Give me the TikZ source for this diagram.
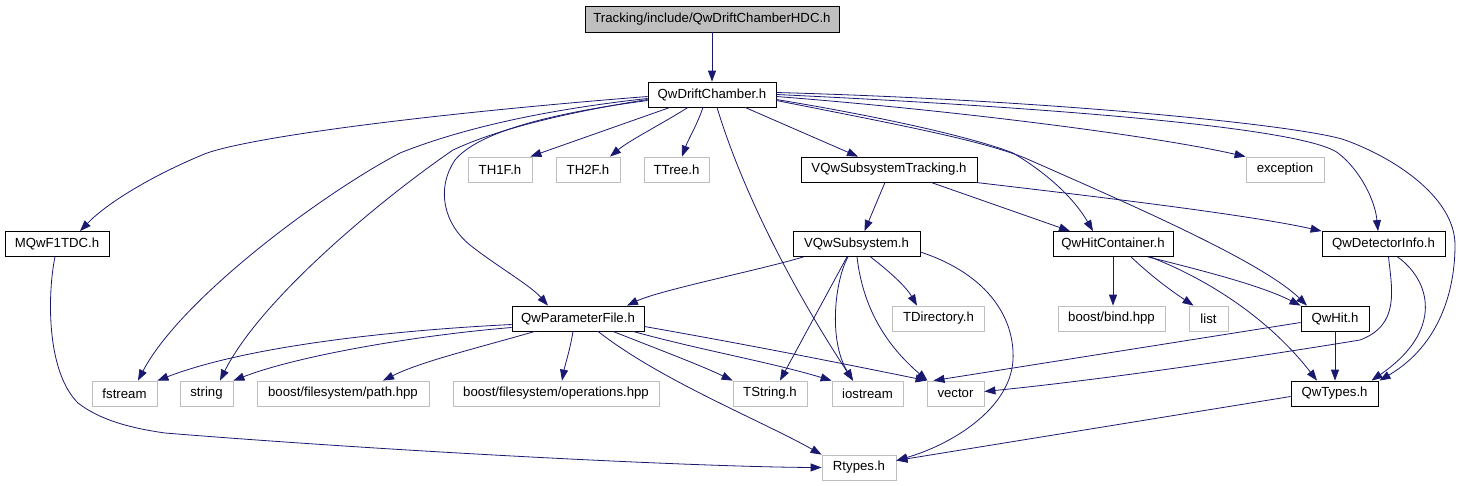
\documentclass[tikz,border=0pt]{standalone}
\usepackage{fontspec}
\setmainfont{Liberation Sans}
\usetikzlibrary{arrows.meta}
\definecolor{edgeblue}{HTML}{191970}
\definecolor{boxgray}{HTML}{BFBFBF}
\begin{document}
\begin{tikzpicture}[x=1pt,y=-1pt,
  box/.style={line width=0.8pt, minimum height=25pt, inner sep=0pt, font=\fontsize{13.2}{15}\selectfont, text=black},
  doc/.style={box, draw=black},
  ext/.style={box, draw=boxgray},
  dep/.style={draw=edgeblue, line width=0.8pt, -{Triangle[length=11pt,width=8pt]}}]
\useasboundingbox (0,0) rectangle (1467,485);
% nodes
\node[doc, fill=boxgray, minimum width=254pt, minimum height=26pt] (top) at (712,19) {Tracking/include/QwDriftChamberHDC.h};
\node[doc, minimum width=128pt] (dc) at (712,94.5) {QwDriftChamber.h};
\node[ext, minimum width=64pt] (th1f) at (500,169.5) {TH1F.h};
\node[ext, minimum width=64pt] (th2f) at (588,169.5) {TH2F.h};
\node[ext, minimum width=65pt] (ttree) at (676.5,169.5) {TTree.h};
\node[doc, minimum width=176pt] (vqst) at (889,169.5) {VQwSubsystemTracking.h};
\node[ext, minimum width=78pt] (exc) at (1285,169.5) {exception};
\node[doc, minimum width=104pt] (mqw) at (57,244) {MQwF1TDC.h};
\node[doc, minimum width=127pt] (vqs) at (856.5,244) {VQwSubsystem.h};
\node[doc, minimum width=120pt] (qhc) at (1113,244) {QwHitContainer.h};
\node[doc, minimum width=123pt] (qdi) at (1383.5,244) {QwDetectorInfo.h};
\node[doc, minimum width=132pt] (qpf) at (578,318.5) {QwParameterFile.h};
\node[ext, minimum width=92pt] (tdir) at (938.5,318.5) {TDirectory.h};
\node[ext, minimum width=107pt] (bind) at (1111.5,318.5) {boost/bind.hpp};
\node[ext, minimum width=39pt] (list) at (1208.5,318.5) {list};
\node[doc, minimum width=68pt] (qhit) at (1335,318.5) {QwHit.h};
\node[ext, minimum width=65pt] (fstream) at (124.5,393.5) {fstream};
\node[ext, minimum width=53pt] (string) at (206.5,393.5) {string};
\node[ext, minimum width=172pt] (path) at (343,393.5) {boost/filesystem/path.hpp};
\node[ext, minimum width=206pt] (ops) at (556,393.5) {boost/filesystem/operations.hpp};
\node[ext, minimum width=74pt] (tstr) at (770,393.5) {TString.h};
\node[ext, minimum width=71pt] (iostr) at (867.5,393.5) {iostream};
\node[ext, minimum width=57pt] (vec) at (955.5,393.5) {vector};
\node[doc, minimum width=87pt] (qtypes) at (1334.5,393.5) {QwTypes.h};
\node[ext, minimum width=74pt] (rtypes) at (859,467.5) {Rtypes.h};
% edges
\draw[dep] (top.south) -- (dc.north);
\draw[dep] ([yshift=-2pt]dc.west) .. controls (450,112) and (260,135) .. (207,153) .. controls (160,172) and (110,200) .. ([xshift=23pt]mqw.north);
\draw[dep] ([yshift=-4pt]dc.west) .. controls (560,108) and (470,125) .. (400,153) .. controls (320,195) and (180,300) .. ([xshift=13.5pt]fstream.north);
\draw[dep] ([yshift=-5pt]dc.west) .. controls (570,112) and (500,128) .. (453,150) .. controls (380,200) and (260,300) .. ([xshift=13.5pt]string.north);
\draw[dep] ([yshift=-6pt]dc.west) .. controls (560,112) and (480,130) .. (455,160) .. controls (435,190) and (445,225) .. (470,245) .. controls (495,265) and (530,285) .. ([xshift=-30pt]qpf.north);
\draw[dep] ([xshift=-42pt]dc.south) -- ([xshift=-2pt]th1f.north east);
\draw[dep] ([xshift=-24pt]dc.south) .. controls (660,125) and (630,140) .. ([xshift=22pt]th2f.north);
\draw[dep] ([xshift=-9pt]dc.south) .. controls (697,125) and (688,140) .. ([xshift=5.5pt]ttree.north);
\draw[dep] ([xshift=5pt]dc.south) .. controls (745,200) and (800,300) .. ([xshift=-14.5pt]iostr.north);
\draw[dep] ([xshift=33pt]dc.south) -- ([xshift=-31pt]vqst.north);
\draw[dep] ([yshift=-5pt]dc.east) .. controls (900,120) and (980,140) .. (1013,153) .. controls (1050,175) and (1075,200) .. ([xshift=-20pt]qhc.north);
\draw[dep] ([yshift=-6pt]dc.east) .. controls (900,125) and (980,140) .. (1025,158) .. controls (1120,200) and (1260,260) .. ([xshift=-28pt]qhit.north);
\draw[dep] ([yshift=-2pt]dc.east) .. controls (950,110) and (1150,135) .. (exc.north west);
\draw[dep] (dc.east) .. controls (1000,105) and (1300,125) .. (1338,153) .. controls (1360,170) and (1375,200) .. ([xshift=-5.5pt]qdi.north);
\draw[dep] ([yshift=2pt]dc.east) .. controls (1050,100) and (1300,125) .. (1345,140) .. controls (1400,160) and (1455,200) .. (1455,245) .. controls (1455,290) and (1440,345) .. ([xshift=45pt]qtypes.north);
\draw[dep] ([xshift=-2pt]mqw.south) .. controls (48,290) and (45,370) .. (78,403) .. controls (100,420) and (130,428) .. (165,433) .. controls (400,452) and (700,467) .. (rtypes.west);
\draw[dep] ([xshift=-4pt]vqst.south) -- ([xshift=8pt]vqs.north);
\draw[dep] ([xshift=42pt]vqst.south) -- ([xshift=-43pt]qhc.north);
\draw[dep] ([xshift=-2pt]vqst.south east) .. controls (1100,197) and (1250,215) .. (qdi.north west);
\draw[dep] ([xshift=-53pt]vqs.south) .. controls (760,270) and (660,290) .. ([xshift=49pt]qpf.north);
\draw[dep] ([xshift=14pt]vqs.south) .. controls (885,268) and (905,285) .. ([xshift=-21.5pt]tdir.north);
\draw[dep] ([xshift=-9.5pt]vqs.south) -- ([xshift=10pt]tstr.north);
\draw[dep] ([xshift=-8.5pt]vqs.south) .. controls (835,280) and (828,340) .. ([xshift=-14.5pt]iostr.north);
\draw[dep] ([xshift=0.5pt]vqs.south) .. controls (862,300) and (880,340) .. ([xshift=-28pt]vec.north);
\draw[dep] ([yshift=-8pt]vqs.east) .. controls (990,275) and (1015,320) .. (1013,360) .. controls (1010,410) and (950,445) .. ([yshift=7pt]rtypes.east);
\draw[dep] ([yshift=-6pt]qpf.west) .. controls (400,330) and (250,345) .. (fstream.north east);
\draw[dep] ([yshift=-9pt]qpf.west) .. controls (420,335) and (300,355) .. (string.north east);
\draw[dep] ([xshift=-43pt]qpf.south) .. controls (470,350) and (420,362) .. ([xshift=40pt]path.north);
\draw[dep] ([xshift=-5pt]qpf.south) .. controls (570,350) and (565,365) .. ([xshift=6pt]ops.north);
\draw[dep] ([xshift=35pt]qpf.south) .. controls (660,350) and (700,365) .. (tstr.north west);
\draw[dep] ([xshift=55pt]qpf.south) .. controls (700,350) and (770,362) .. (iostr.north west);
\draw[dep] ([yshift=-8pt]qpf.east) .. controls (750,345) and (850,365) .. (vec.north west);
\draw[dep] ([xshift=20pt]qpf.south) .. controls (660,380) and (760,420) .. (rtypes.north west);
\draw[dep] (qhc.south) -- (qhc.south |- bind.north);
\draw[dep] ([xshift=18pt]qhc.south) .. controls (1150,275) and (1170,290) .. ([xshift=-15pt]list.north);
\draw[dep] ([xshift=35pt]qhc.south) .. controls (1200,270) and (1260,285) .. (qhit.north west);
\draw[dep] ([xshift=37pt]qhc.south) .. controls (1210,280) and (1270,320) .. ([xshift=-17.5pt]qtypes.north);
\draw[dep] ([yshift=-4pt]qhit.west) -- ([xshift=-22pt]vec.north);
\draw[dep] (qhit.south) -- (qhit.south |- qtypes.north);
\draw[dep] ([xshift=5pt]qdi.south) .. controls (1392,290) and (1400,325) .. (1360,340) .. controls (1250,358) and (1100,380) .. ([yshift=2pt]vec.east);
\draw[dep] ([xshift=14pt]qdi.south) .. controls (1430,280) and (1445,330) .. ([xshift=37pt]qtypes.north);
\draw[dep] ([yshift=-3pt]qtypes.west) -- ([yshift=7pt]rtypes.east);
\end{tikzpicture}
\end{document}
